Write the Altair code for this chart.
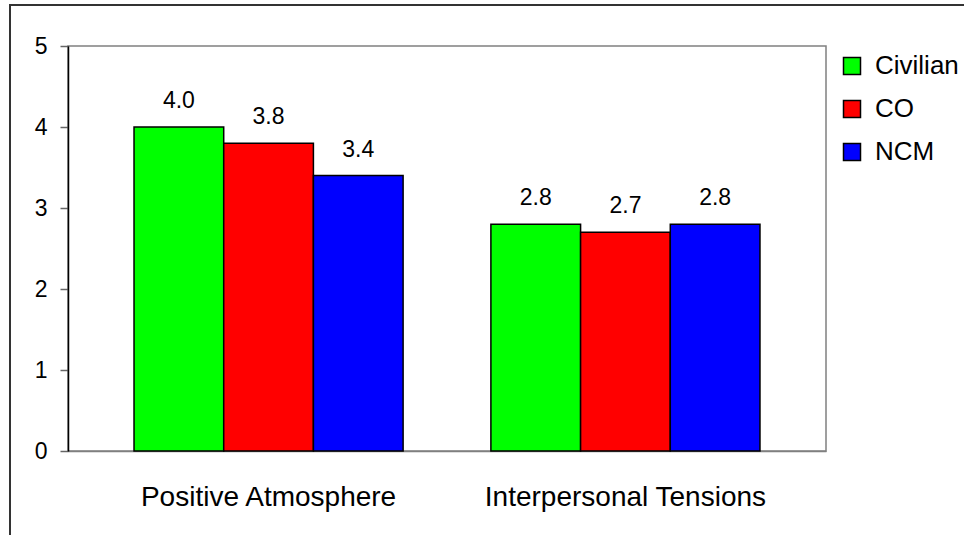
import altair as alt
import pandas as pd

# Survey scale means by dimension and respondent group
dimensions = ["Positive Atmosphere", "Interpersonal Tensions"]
groups = ["Civilian", "CO", "NCM"]
civilian = [4.0, 2.8]
co = [3.8, 2.7]
ncm = [3.4, 2.8]
group_colors = ["#00FF00", "#FF0000", "#0000FF"]
y_ticks = [0, 1, 2, 3, 4, 5]

rows = []
for i, dim in enumerate(dimensions):
    for grp, vals in zip(groups, [civilian, co, ncm]):
        rows.append({"dimension": dim, "group": grp, "score": vals[i]})
df = pd.DataFrame(rows)

FONT = "Liberation Sans"

x_enc = alt.X(
    "dimension:N",
    sort=dimensions,
    scale=alt.Scale(paddingInner=0.246, paddingOuter=0.185),
    axis=alt.Axis(
        title=None, labelAngle=0, ticks=False, labelFontSize=28,
        labelFont=FONT, labelColor="black", labelPadding=32,
        labelLimit=0, domainColor="#808080", domainWidth=1.5,
    ),
)
xoff = alt.XOffset("group:N", sort=groups,
                   scale=alt.Scale(paddingInner=0, paddingOuter=0))
y_enc = alt.Y(
    "score:Q",
    scale=alt.Scale(domain=[0, 5], nice=False, zero=True),
    axis=alt.Axis(
        title=None, values=y_ticks, format="d", grid=False, tickSize=8,
        tickColor="#666666", tickWidth=1.5, domainColor="black",
        domainWidth=1.5, labelFontSize=23, labelFont=FONT,
        labelColor="black", labelPadding=13,
    ),
)

bars = alt.Chart(df).mark_bar(stroke="black", strokeWidth=1.5).encode(
    x=x_enc,
    xOffset=xoff,
    y=y_enc,
    color=alt.Color(
        "group:N", sort=groups,
        scale=alt.Scale(domain=groups, range=group_colors),
        legend=alt.Legend(
            title=None, orient="none", legendX=771, legendY=7,
            symbolType="square", symbolSize=289, symbolStrokeColor="black",
            symbolStrokeWidth=1.5, symbolOpacity=1, labelFontSize=26,
            labelFont=FONT, labelColor="black", labelOffset=10,
            labelLimit=0, rowPadding=17, padding=0,
        ),
    ),
)

labels = alt.Chart(df).mark_text(
    fontSize=23, font=FONT, color="black", baseline="alphabetic", dy=-19
).encode(
    x=alt.X("dimension:N", sort=dimensions),
    xOffset=xoff,
    y=alt.Y("score:Q"),
    text=alt.Text("score:Q", format=".1f"),
)

# Outer frame around the whole figure
frame = alt.Chart(pd.DataFrame({"k": [0]})).mark_rect(
    filled=False, stroke="#333333", strokeWidth=2
).encode(
    x=alt.value(-58), x2=alt.value(1000),
    y=alt.value(-41), y2=alt.value(600),
)

chart = alt.layer(frame, bars, labels).properties(
    width=758, height=405,
    autosize=alt.AutoSizeParams(type="none"),
    padding={"left": 68, "top": 46, "right": 138, "bottom": 84},
    background="white",
).configure_view(stroke="#808080", strokeWidth=1.5)

chart.save("out.html", embed_options={"renderer": "svg", "actions": False})
